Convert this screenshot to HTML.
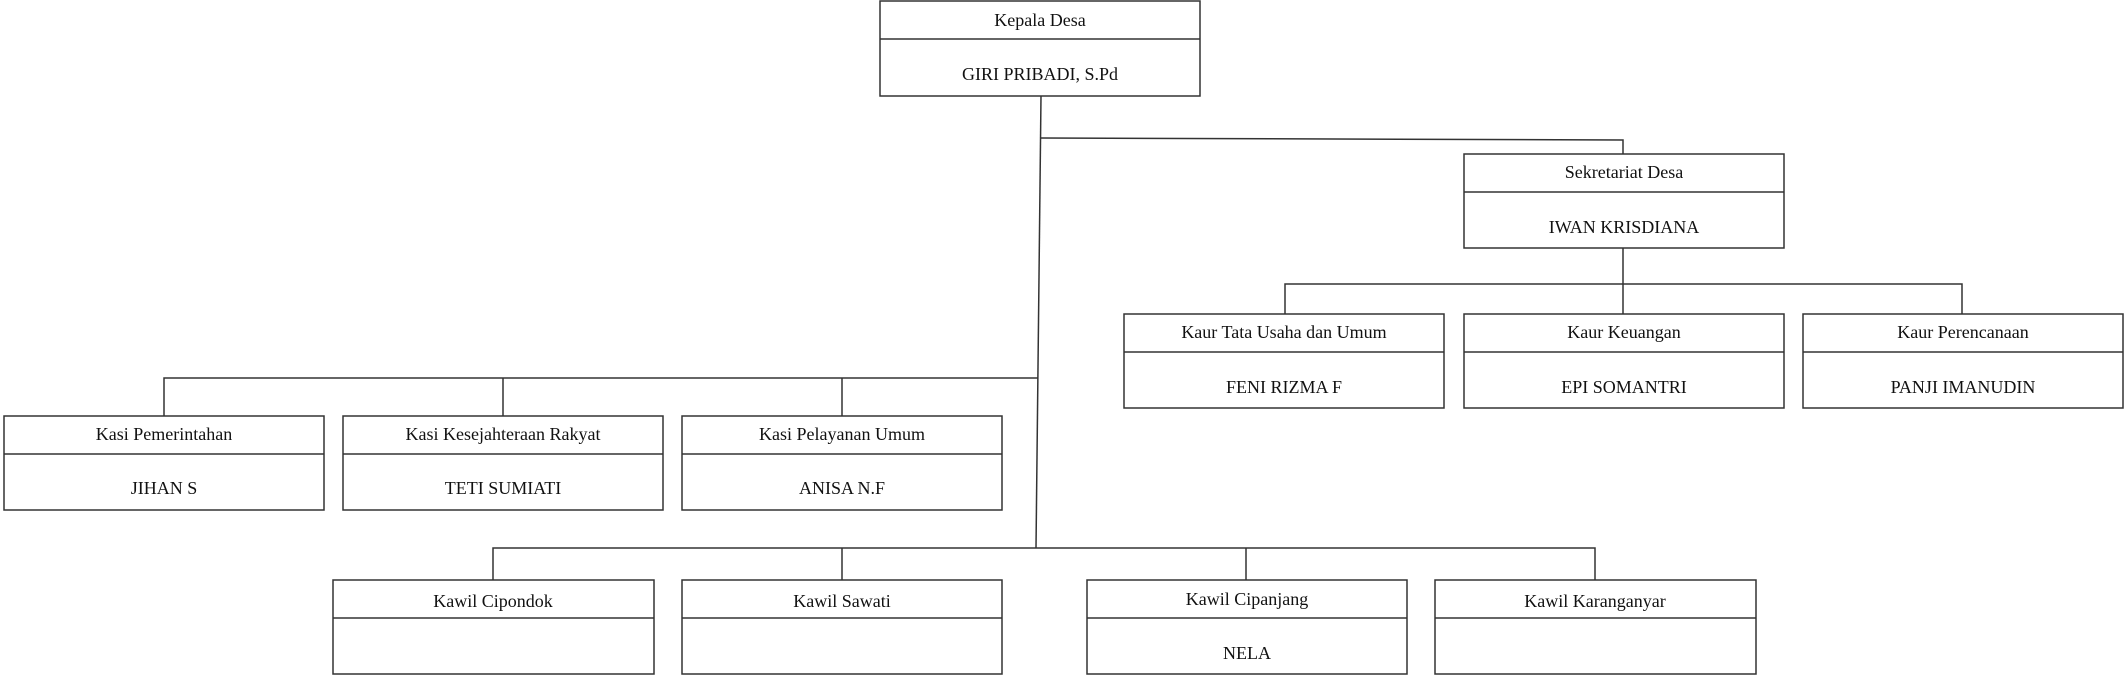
<!DOCTYPE html>
<html><head><meta charset="utf-8"><style>
html,body{margin:0;padding:0;background:#fff;}
svg{display:block;}
text{font-family:"Liberation Serif",serif;font-size:18px;fill:#111;text-anchor:middle;dominant-baseline:middle;}
</style></head><body>
<svg width="2127" height="676" viewBox="0 0 2127 676" xmlns="http://www.w3.org/2000/svg">
<g stroke="#333" stroke-width="1.5" fill="none">
<!-- connectors -->
<line x1="1041" y1="96" x2="1036" y2="548"/>
<polyline points="1041,138 1623,140 1623,154"/>
<line x1="1623" y1="248" x2="1623" y2="314"/>
<polyline points="1285,314 1285,284 1962,284 1962,314"/>
<polyline points="164,416 164,378 1038,378"/>
<line x1="503" y1="378" x2="503" y2="416"/>
<line x1="842" y1="378" x2="842" y2="416"/>
<polyline points="493,580 493,548 1595,548 1595,580"/>
<line x1="842" y1="548" x2="842" y2="580"/>
<line x1="1246" y1="548" x2="1246" y2="580"/>
<!-- boxes -->
<rect x="880" y="1" width="320" height="95"/><line x1="880" y1="39" x2="1200" y2="39"/>
<rect x="1464" y="154" width="320" height="94"/><line x1="1464" y1="192" x2="1784" y2="192"/>
<rect x="1124" y="314" width="320" height="94"/><line x1="1124" y1="352" x2="1444" y2="352"/>
<rect x="1464" y="314" width="320" height="94"/><line x1="1464" y1="352" x2="1784" y2="352"/>
<rect x="1803" y="314" width="320" height="94"/><line x1="1803" y1="352" x2="2123" y2="352"/>
<rect x="4" y="416" width="320" height="94"/><line x1="4" y1="454" x2="324" y2="454"/>
<rect x="343" y="416" width="320" height="94"/><line x1="343" y1="454" x2="663" y2="454"/>
<rect x="682" y="416" width="320" height="94"/><line x1="682" y1="454" x2="1002" y2="454"/>
<rect x="333" y="580" width="321" height="94"/><line x1="333" y1="618" x2="654" y2="618"/>
<rect x="682" y="580" width="320" height="94"/><line x1="682" y1="618" x2="1002" y2="618"/>
<rect x="1087" y="580" width="320" height="94"/><line x1="1087" y1="618" x2="1407" y2="618"/>
<rect x="1435" y="580" width="321" height="94"/><line x1="1435" y1="618" x2="1756" y2="618"/>
</g>
<text x="1040" y="22">Kepala Desa</text><text x="1040" y="76">GIRI PRIBADI, S.Pd</text>
<text x="1624" y="174">Sekretariat Desa</text><text x="1624" y="229">IWAN KRISDIANA</text>
<text x="1284" y="334">Kaur Tata Usaha dan Umum</text><text x="1284" y="389">FENI RIZMA F</text>
<text x="1624" y="334">Kaur Keuangan</text><text x="1624" y="389">EPI SOMANTRI</text>
<text x="1963" y="334">Kaur Perencanaan</text><text x="1963" y="389">PANJI IMANUDIN</text>
<text x="164" y="436">Kasi Pemerintahan</text><text x="164" y="490">JIHAN S</text>
<text x="503" y="436">Kasi Kesejahteraan Rakyat</text><text x="503" y="490">TETI SUMIATI</text>
<text x="842" y="436">Kasi Pelayanan Umum</text><text x="842" y="490">ANISA N.F</text>
<text x="493" y="603">Kawil Cipondok</text>
<text x="842" y="603">Kawil Sawati</text>
<text x="1247" y="601">Kawil Cipanjang</text><text x="1247" y="655">NELA</text>
<text x="1595" y="603">Kawil Karanganyar</text>
</svg>
</body></html>
